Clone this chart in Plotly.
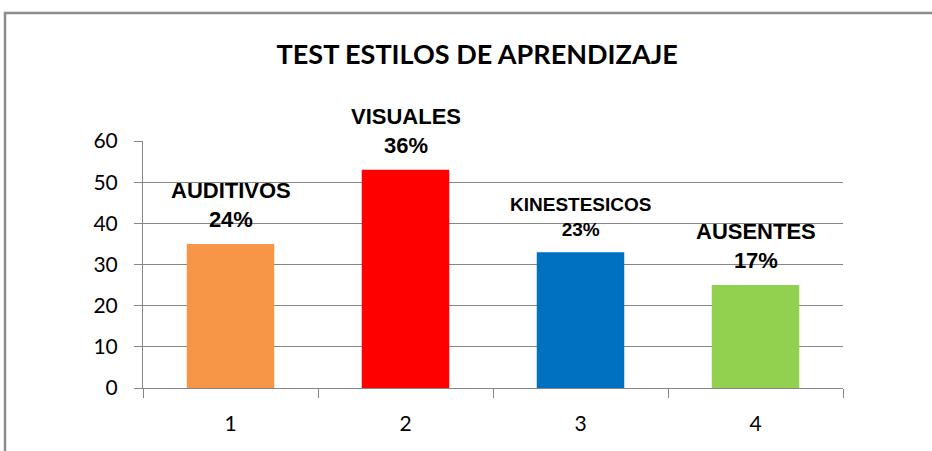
import plotly.graph_objects as go

categories = ["1", "2", "3", "4"]
values = [35, 53, 33, 25]
names = ["AUDITIVOS", "VISUALES", "KINESTESICOS", "AUSENTES"]
percents = ["24%", "36%", "23%", "17%"]
colors = ["#F79646", "#FF0000", "#0070C0", "#92D050"]
label_sizes = [22, 22, 19, 22]
y_ticks = [0, 10, 20, 30, 40, 50, 60]

labels = [f"{n}<br>{p}" for n, p in zip(names, percents)]

fig = go.Figure()
fig.add_trace(go.Bar(
    x=categories, y=values,
    marker=dict(color=colors, line=dict(width=0)),
    width=0.5,
))

for i, (val, lab, sz) in enumerate(zip(values, labels, label_sizes)):
    fig.add_annotation(x=i, y=val, text=lab, showarrow=False,
                       xanchor="center", yanchor="bottom", yshift=10,
                       font=dict(family="Liberation Sans, Arial", size=sz, color="#000000", weight="bold"))

fig.update_layout(
    width=932, height=451,
    margin=dict(l=143, r=89, t=141, b=63),
    paper_bgcolor="white", plot_bgcolor="white",
    showlegend=False,
    title=dict(text="TEST ESTILOS DE APRENDIZAJE", x=0.512, xanchor="center",
               y=0.878, yanchor="middle",
               font=dict(family="Lato", size=27, color="#000000", weight="bold")),
    xaxis=dict(type="category", categoryorder="array", categoryarray=categories,
               range=[-0.5, len(categories) - 0.5],
               showline=True, linecolor="#868686", linewidth=1,
               ticks="outside", tickson="boundaries", ticklen=9, tickcolor="#868686",
               tickfont=dict(family="Lato", size=21, color="#000000"),
               ticklabelstandoff=17, showgrid=False),
    yaxis=dict(range=[0, 60], tickvals=y_ticks, showline=True, linecolor="#868686", linewidth=1,
               ticks="outside", ticklen=8, tickcolor="#868686",
               gridcolor="#868686", gridwidth=1, zeroline=False,
               ticklabelstandoff=12,
               tickfont=dict(family="Lato", size=21, color="#000000")),
    shapes=[dict(type="rect", xref="paper", yref="paper",
                 x0=(5 - 143) / 700, x1=(945 - 143) / 700,
                 y0=(388 - 470) / 247, y1=(388 - 13) / 247,
                 line=dict(color="#8C8C8C", width=2.5), fillcolor="rgba(0,0,0,0)", layer="below")],
)

fig.write_html("out.html", config={"displayModeBar": False},
               post_script="document.body.style.margin='0';document.body.style.overflow='hidden';")
